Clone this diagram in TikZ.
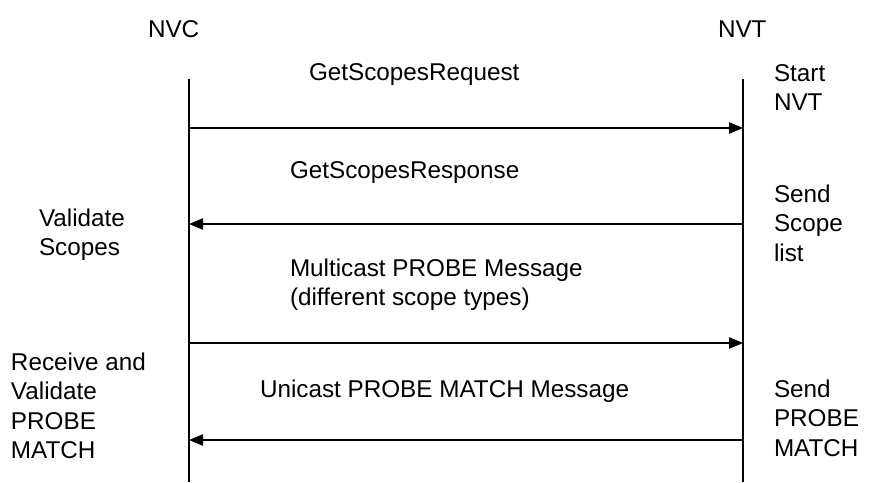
\documentclass[tikz,border=0pt]{standalone}
\usepackage{fontspec}
\setmainfont{Liberation Sans}
\usetikzlibrary{arrows.meta}
\begin{document}
\begin{tikzpicture}[x=0.75pt,y=-0.75pt,
  lbl/.style={inner sep=0pt,outer sep=0pt,font=\fontsize{18.2pt}{22.1pt}\selectfont,align=left,anchor=base west},
  life/.style={line width=1pt},
  msg/.style={line width=1pt,-{Triangle[length=10.5pt,width=8.5pt]}}]
\useasboundingbox (0,0) rectangle (870,482);
% lifeline ends
\coordinate (ct) at (189,79);
\coordinate (cb) at (189,482);
\coordinate (tt) at (743,79);
\coordinate (tb) at (743,482);
\draw[life] (ct) -- (cb);
\draw[life] (tt) -- (tb);
% message anchor points
\coordinate (c1) at (189,128); \coordinate (t1) at (743,128);
\coordinate (c2) at (189,224); \coordinate (t2) at (743,224);
\coordinate (c3) at (189,343); \coordinate (t3) at (743,343);
\coordinate (c4) at (189,440); \coordinate (t4) at (743,440);
\draw[msg] (c1) -- (t1);
\draw[msg] (t2) -- (c2);
\draw[msg] (c3) -- (t3);
\draw[msg] (t4) -- (c4);
% labels (base anchor = baseline of last line)
\node[lbl] (nvc) at (148,37) {NVC};
\node[lbl] (nvt) at (718,37) {NVT};
\node[lbl] (req) at (309,80) {GetScopesRequest};
\node[lbl] (resp) at (290,178) {GetScopesResponse};
\node[lbl] (mc) at (290,305.5) {Multicast PROBE Message\\(different scope types)};
\node[lbl] (uc) at (260,397) {Unicast PROBE MATCH Message};
\node[lbl] (start) at (774,110.5) {Start\\NVT};
\node[lbl] (send) at (774,261) {Send\\Scope\\list};
\node[lbl] (val) at (39,255.5) {Validate\\Scopes};
\node[lbl] (recv) at (11,458.5) {Receive and\\Validate\\PROBE\\MATCH};
\node[lbl] (sendpm) at (774,456) {Send\\PROBE\\MATCH};
\end{tikzpicture}
\end{document}
